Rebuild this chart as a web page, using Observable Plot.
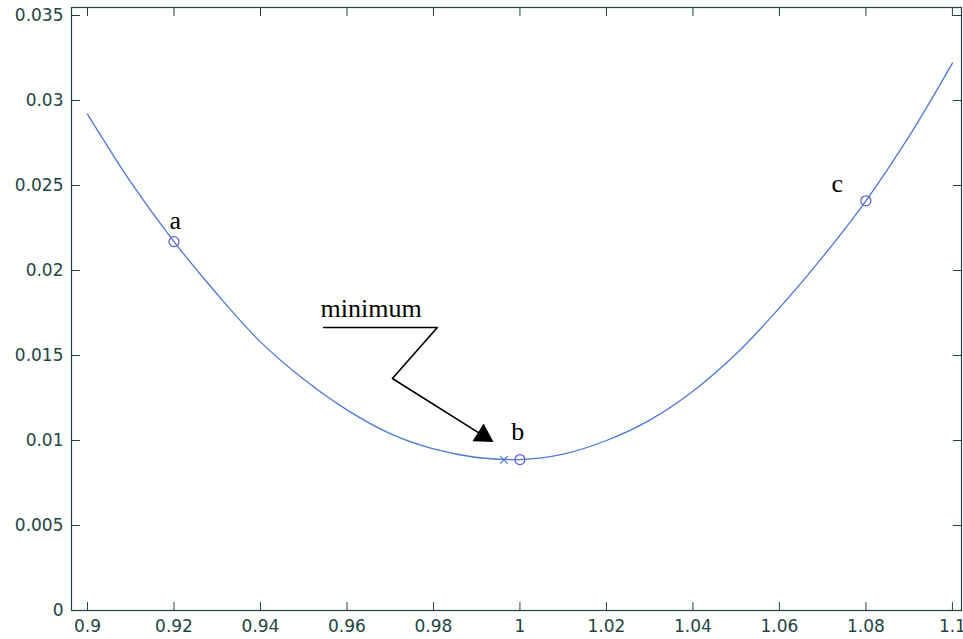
<!DOCTYPE html>
<html><head><meta charset="utf-8">
<script src="https://cdn.jsdelivr.net/npm/d3@7"></script>
<script src="https://cdn.jsdelivr.net/npm/@observablehq/plot@0.6"></script>
<style>body{margin:0;background:#fff}</style>
</head><body><div id="chart"></div>
<script>
// curve samples
const curveX = [0.90,0.91,0.92,0.93,0.94,0.95,0.96,0.97,0.98,0.99,1.00,1.01,1.02,1.03,1.04,1.05,1.06,1.07,1.08,1.09,1.10];
const curveY = [0.0292,0.0252,0.0217,0.0186,0.0158,0.0136,0.0118,0.0104,0.0095,0.0090,0.00888,0.0092,0.0100,0.0112,0.0129,0.0151,0.0178,0.0208,0.0241,0.0279,0.0322];

// marked points a, b, c
const pointX = [0.92, 1.00, 1.08];
const pointY = [0.0217, 0.00888, 0.0241];
const pointLabels = ["a", "b", "c"];
const labelX = [0.9203, 0.9995, 1.0734];
const labelY = [0.02247, 0.0100, 0.02461];

// minimum marker
const minX = [0.9963];
const minY = [0.00886];

// annotation
const noteText = ["minimum"];
const noteX = [0.9539];
const noteY = [0.01724];
const leaderX = [0.9546, 0.9809, 0.9705, 0.9915];
const leaderY = [0.016647, 0.016647, 0.013647, 0.010288];
const headX = [0.9915];
const headY = [0.010288];

// ticks
const xTicks = [0.90,0.92,0.94,0.96,0.98,1.00,1.02,1.04,1.06,1.08,1.10];
const yTicks = [0,0.005,0.01,0.015,0.02,0.025,0.03,0.035];

const curve = curveX.map((x, i) => ({x, y: curveY[i]}));
const points = pointX.map((x, i) => ({x, y: pointY[i]}));
const labels = labelX.map((x, i) => ({x, y: labelY[i], t: pointLabels[i]}));
const mins = minX.map((x, i) => ({x, y: minY[i]}));
const notes = noteX.map((x, i) => ({x, y: noteY[i], t: noteText[i]}));
const leader = leaderX.map((x, i) => ({x, y: leaderY[i]}));
const heads = headX.map((x, i) => ({x, y: headY[i]}));

const axisColor = "#1d4444";
const lineColor = "#4a78d6";
const markColor = "#5a5ad8";
const blank = () => "";

const chart = Plot.plot({
  width: 963,
  height: 639,
  marginLeft: 71,
  marginRight: 2,
  marginTop: 7,
  marginBottom: 29,
  style: {fontFamily: "DejaVu Sans", fontSize: "17px", color: axisColor, background: "#fff"},
  x: {domain: [0.8963, 1.1021], label: null},
  y: {domain: [0, 0.03547], label: null},
  marks: [
    Plot.frame({stroke: axisColor, strokeWidth: 1.2}),
    Plot.axisX(xTicks, {anchor: "bottom", tickSize: 8, dy: -8, tickFormat: blank, stroke: axisColor}),
    Plot.axisX(xTicks, {anchor: "top", tickSize: 8, dy: 8, tickFormat: blank, stroke: axisColor}),
    Plot.axisY(yTicks, {anchor: "left", tickSize: 9, dx: 9, tickFormat: blank, stroke: axisColor}),
    Plot.axisY(yTicks, {anchor: "right", tickSize: 9, dx: -9, tickFormat: blank, stroke: axisColor}),
    Plot.axisX(xTicks, {anchor: "bottom", tickSize: 0, tickPadding: 9, tickFormat: d => String(+d.toFixed(2)), fill: axisColor}),
    Plot.axisY(yTicks, {anchor: "left", tickSize: 0, tickPadding: 8, tickFormat: d => String(+d.toFixed(3)), fill: axisColor}),
    Plot.line(curve, {x: "x", y: "y", curve: "catmull-rom", stroke: lineColor, strokeWidth: 1.3}),
    Plot.dot(points, {x: "x", y: "y", r: 5, stroke: markColor, strokeWidth: 1.2, fill: "none"}),
    Plot.dot(mins, {x: "x", y: "y", symbol: "times", r: 3.5, stroke: lineColor, strokeWidth: 1.2}),
    Plot.text(labels, {x: "x", y: "y", text: "t", fontFamily: "Liberation Serif", fontSize: 26, textAnchor: "middle", lineAnchor: "bottom", fill: "black"}),
    Plot.text(notes, {x: "x", y: "y", text: "t", fontFamily: "Liberation Serif", fontSize: 26, textAnchor: "start", lineAnchor: "bottom", fill: "black"}),
    Plot.line(leader, {x: "x", y: "y", stroke: "black", strokeWidth: 1.6, curve: "linear"}),
    Plot.dot(heads, {x: "x", y: "y", symbol: "triangle", r: 7.8, fill: "black", stroke: null, rotate: 122})
  ]
});
document.getElementById("chart").appendChild(chart);
</script>
</body></html>
